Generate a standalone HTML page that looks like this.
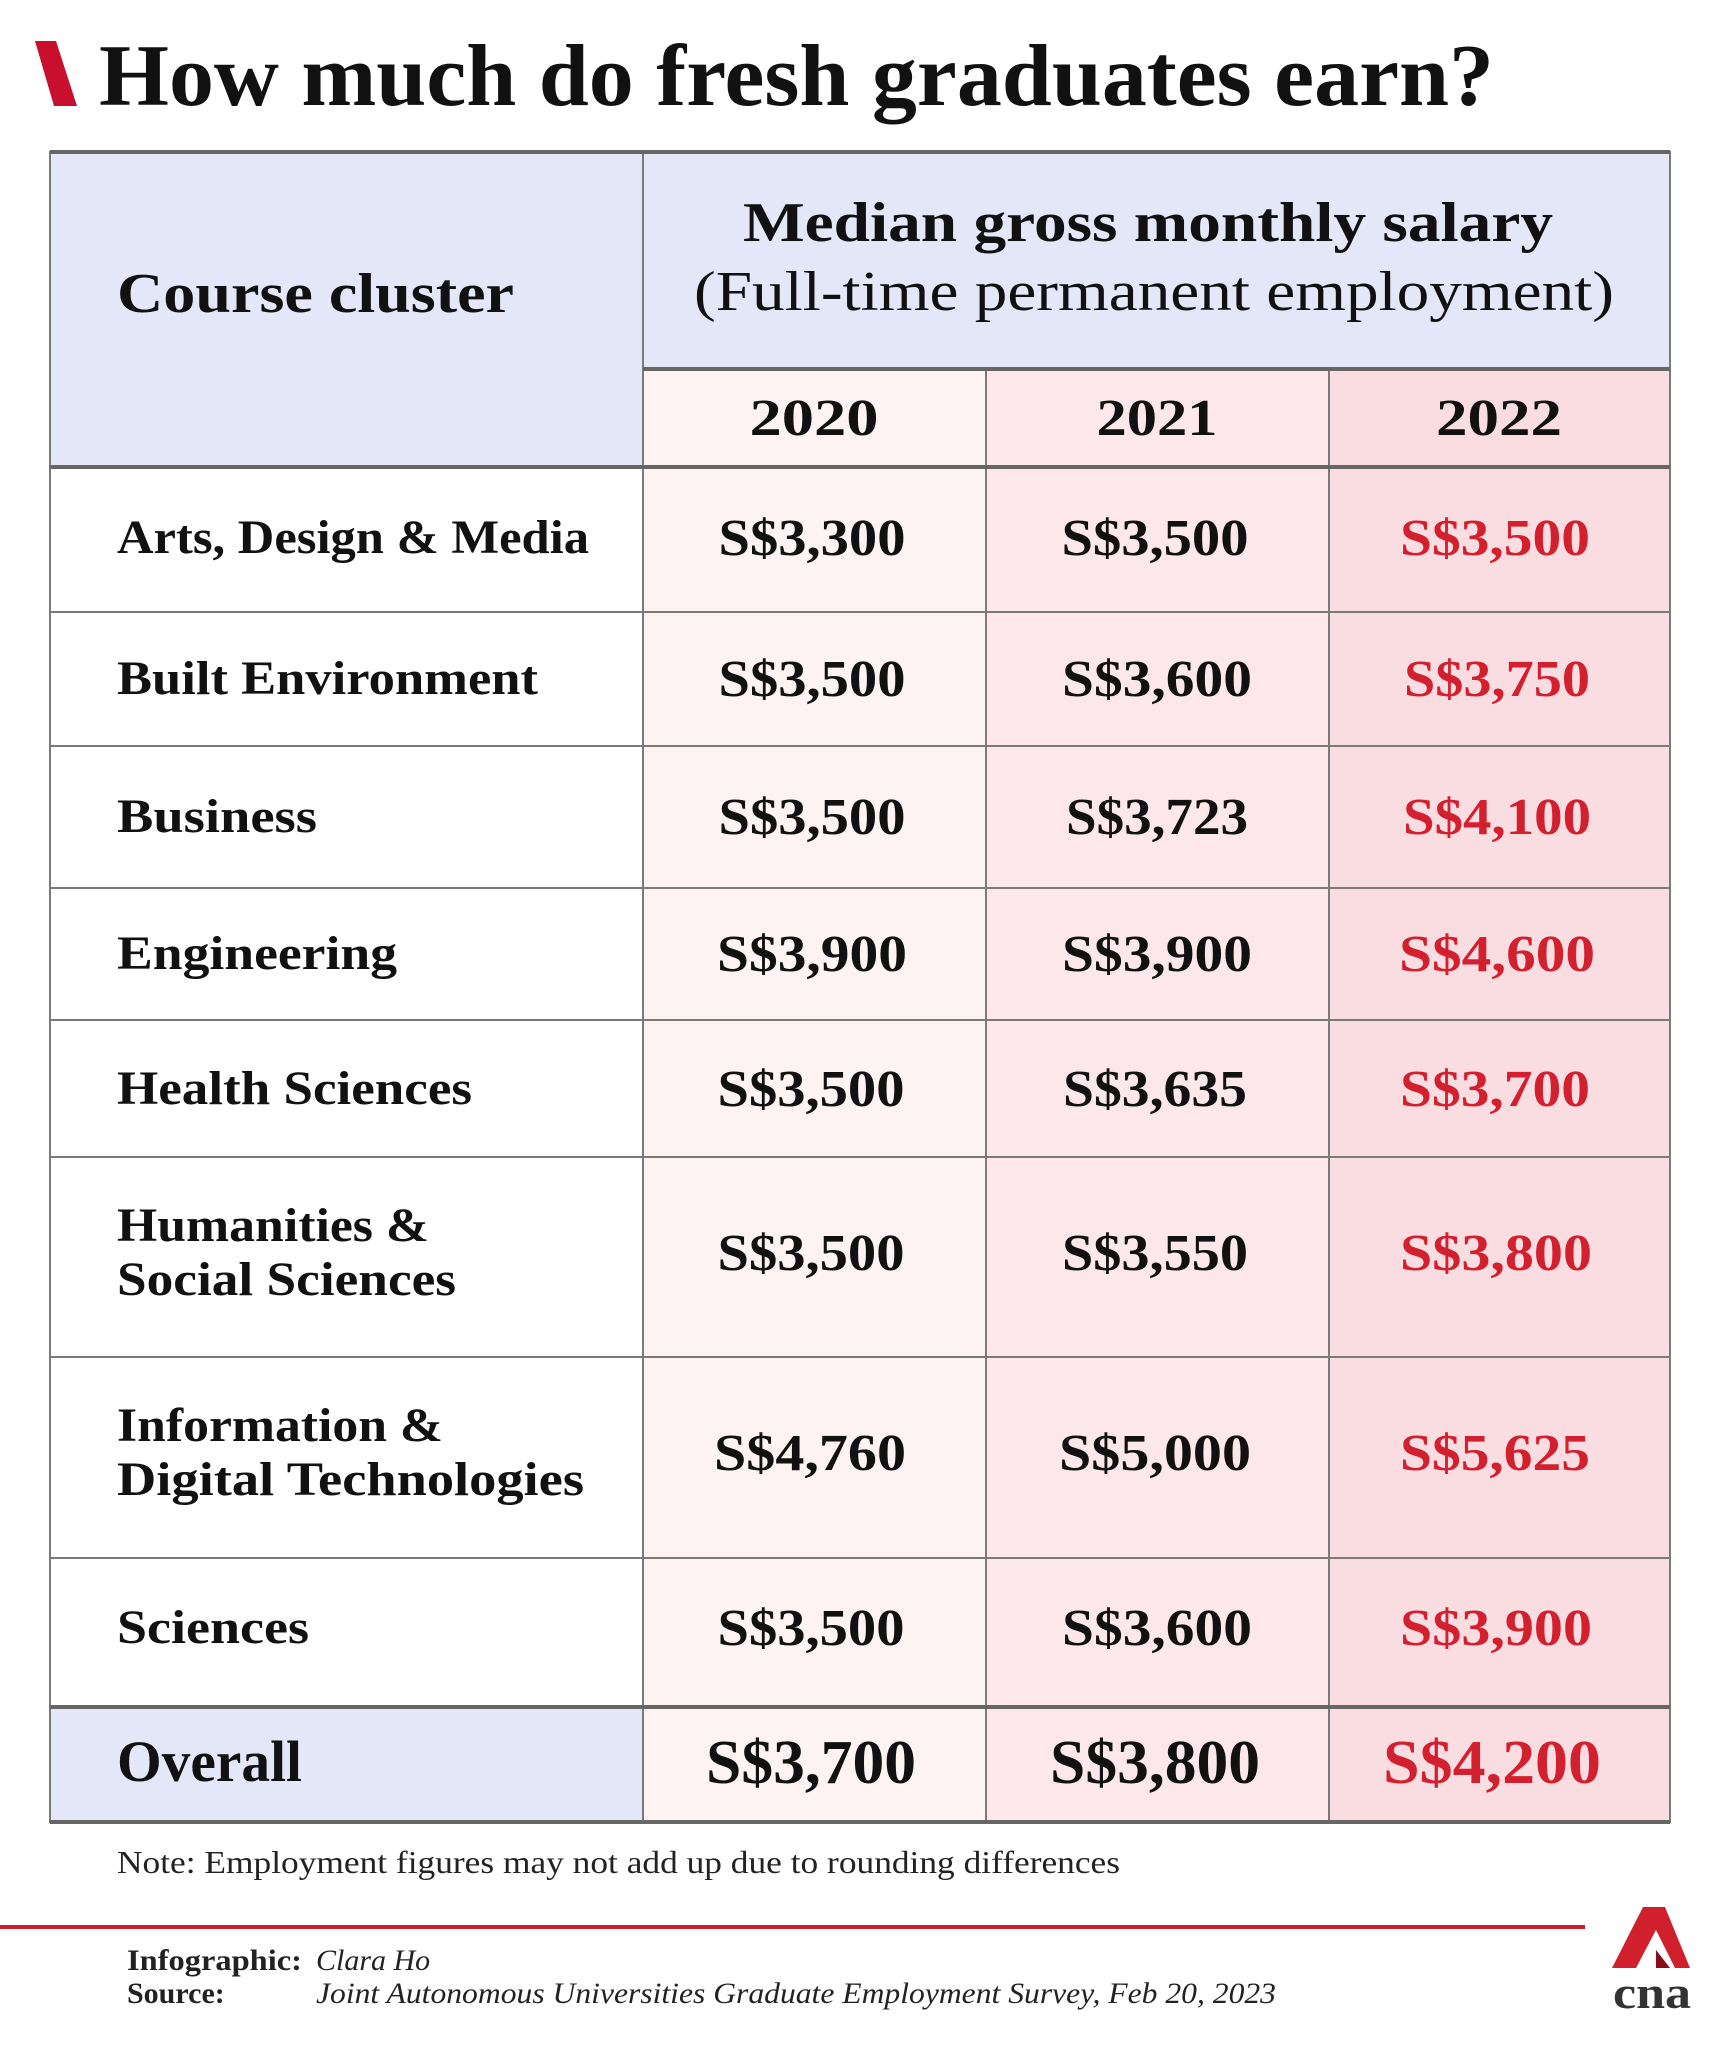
<!DOCTYPE html>
<html><head><meta charset="utf-8"><style>
html,body{margin:0;padding:0;background:#fff;width:1720px;height:2048px;overflow:hidden}
svg{display:block}
text{font-family:"Liberation Serif",serif}
.b{font-weight:bold}
</style></head><body>
<svg width="1720" height="2048" viewBox="0 0 1720 2048" xmlns="http://www.w3.org/2000/svg">
<polygon points="35,41 56,41 77,106 54,106" fill="#c8102e"/>
<text x="99" y="105" class="b" font-size="88" textLength="1395" lengthAdjust="spacingAndGlyphs" fill="#111">How much do fresh graduates earn?</text>

<rect x="50" y="152" width="593" height="315" fill="#e4e7f8"/>
<rect x="643" y="152" width="1027" height="217" fill="#e4e7f8"/>
<rect x="643" y="369" width="343" height="1453" fill="#fdf3f3"/>
<rect x="986" y="369" width="343" height="1453" fill="#fce8ea"/>
<rect x="1329" y="369" width="341" height="1453" fill="#fadde1"/>
<rect x="50" y="1707" width="593" height="115" fill="#e4e7f8"/>

<g stroke="#7a7a7a" stroke-width="2" fill="none">
<rect x="50" y="152" width="1620" height="1670"/>
<line x1="643" y1="152" x2="643" y2="1822"/>
<line x1="986" y1="369" x2="986" y2="1822"/>
<line x1="1329" y1="369" x2="1329" y2="1822"/>
<line x1="50" y1="612" x2="1670" y2="612"/>
<line x1="50" y1="746" x2="1670" y2="746"/>
<line x1="50" y1="888" x2="1670" y2="888"/>
<line x1="50" y1="1020" x2="1670" y2="1020"/>
<line x1="50" y1="1157" x2="1670" y2="1157"/>
<line x1="50" y1="1357" x2="1670" y2="1357"/>
<line x1="50" y1="1558" x2="1670" y2="1558"/>
</g>
<g stroke="#666" stroke-width="4">
<line x1="50" y1="152" x2="1670" y2="152"/>
<line x1="643" y1="369" x2="1670" y2="369"/>
<line x1="50" y1="467" x2="1670" y2="467"/>
<line x1="50" y1="1707" x2="1670" y2="1707"/>
<line x1="50" y1="1822" x2="1670" y2="1822"/>
</g>

<text x="117" y="312" class="b" font-size="56" textLength="397" lengthAdjust="spacingAndGlyphs" fill="#111">Course cluster</text>
<text x="743" y="241" class="b" font-size="56" textLength="810" lengthAdjust="spacingAndGlyphs" fill="#111">Median gross monthly salary</text>
<text x="694" y="310" font-size="56" textLength="920" lengthAdjust="spacingAndGlyphs" fill="#111">(Full-time permanent employment)</text>
<g class="b" font-size="52" fill="#111" text-anchor="middle">
<text x="814" y="435" textLength="129" lengthAdjust="spacingAndGlyphs">2020</text><text x="1157" y="435" textLength="121" lengthAdjust="spacingAndGlyphs">2021</text><text x="1499" y="435" textLength="126" lengthAdjust="spacingAndGlyphs">2022</text>
</g>

<g class="b" font-size="48" fill="#111">
<text x="117" y="553" textLength="472" lengthAdjust="spacingAndGlyphs">Arts, Design &amp; Media</text>
<text x="117" y="694" textLength="421" lengthAdjust="spacingAndGlyphs">Built Environment</text>
<text x="117" y="832" textLength="200" lengthAdjust="spacingAndGlyphs">Business</text>
<text x="117" y="969" textLength="280" lengthAdjust="spacingAndGlyphs">Engineering</text>
<text x="117" y="1104" textLength="355" lengthAdjust="spacingAndGlyphs">Health Sciences</text>
<text x="117" y="1241" textLength="312" lengthAdjust="spacingAndGlyphs">Humanities &amp;</text>
<text x="117" y="1295" textLength="339" lengthAdjust="spacingAndGlyphs">Social Sciences</text>
<text x="117" y="1441" textLength="326" lengthAdjust="spacingAndGlyphs">Information &amp;</text>
<text x="117" y="1495" textLength="467" lengthAdjust="spacingAndGlyphs">Digital Technologies</text>
<text x="117" y="1643" textLength="192" lengthAdjust="spacingAndGlyphs">Sciences</text>
<text x="117" y="1781" font-size="58" textLength="185" lengthAdjust="spacingAndGlyphs">Overall</text>
</g>

<g class="b" font-size="52" text-anchor="middle">
<g fill="#111">
<text x="812" y="555" textLength="187" lengthAdjust="spacingAndGlyphs">S$3,300</text><text x="1155" y="555" textLength="187" lengthAdjust="spacingAndGlyphs">S$3,500</text>
<text x="812" y="696" textLength="187" lengthAdjust="spacingAndGlyphs">S$3,500</text><text x="1157" y="696" textLength="190" lengthAdjust="spacingAndGlyphs">S$3,600</text>
<text x="812" y="834" textLength="187" lengthAdjust="spacingAndGlyphs">S$3,500</text><text x="1157" y="834" textLength="182" lengthAdjust="spacingAndGlyphs">S$3,723</text>
<text x="812" y="971" textLength="190" lengthAdjust="spacingAndGlyphs">S$3,900</text><text x="1157" y="971" textLength="190" lengthAdjust="spacingAndGlyphs">S$3,900</text>
<text x="811" y="1106" textLength="187" lengthAdjust="spacingAndGlyphs">S$3,500</text><text x="1155" y="1106" textLength="184" lengthAdjust="spacingAndGlyphs">S$3,635</text>
<text x="811" y="1270" textLength="187" lengthAdjust="spacingAndGlyphs">S$3,500</text><text x="1155" y="1270" textLength="186" lengthAdjust="spacingAndGlyphs">S$3,550</text>
<text x="810" y="1470" textLength="192" lengthAdjust="spacingAndGlyphs">S$4,760</text><text x="1155" y="1470" textLength="192" lengthAdjust="spacingAndGlyphs">S$5,000</text>
<text x="811" y="1645" textLength="187" lengthAdjust="spacingAndGlyphs">S$3,500</text><text x="1157" y="1645" textLength="190" lengthAdjust="spacingAndGlyphs">S$3,600</text>
<text x="811" y="1783" font-size="62" textLength="210" lengthAdjust="spacingAndGlyphs">S$3,700</text><text x="1155" y="1783" font-size="62" textLength="210" lengthAdjust="spacingAndGlyphs">S$3,800</text>
</g>
<g fill="#d2202f">
<text x="1495" y="555" textLength="190" lengthAdjust="spacingAndGlyphs">S$3,500</text>
<text x="1497" y="696" textLength="186" lengthAdjust="spacingAndGlyphs">S$3,750</text>
<text x="1497" y="834" textLength="188" lengthAdjust="spacingAndGlyphs">S$4,100</text>
<text x="1497" y="971" textLength="196" lengthAdjust="spacingAndGlyphs">S$4,600</text>
<text x="1495" y="1106" textLength="190" lengthAdjust="spacingAndGlyphs">S$3,700</text>
<text x="1496" y="1270" textLength="192" lengthAdjust="spacingAndGlyphs">S$3,800</text>
<text x="1495" y="1470" textLength="190" lengthAdjust="spacingAndGlyphs">S$5,625</text>
<text x="1496" y="1645" textLength="192" lengthAdjust="spacingAndGlyphs">S$3,900</text>
<text x="1492" y="1783" font-size="62" textLength="218" lengthAdjust="spacingAndGlyphs">S$4,200</text>
</g>
</g>

<text x="117" y="1873" font-size="32" textLength="1003" lengthAdjust="spacingAndGlyphs" fill="#222">Note: Employment figures may not add up due to rounding differences</text>
<rect x="0" y="1925" width="1585" height="4" fill="#c8202e"/>
<text x="127" y="1970" class="b" font-size="30" fill="#222" textLength="175" lengthAdjust="spacingAndGlyphs">Infographic:</text>
<text x="127" y="2003" class="b" font-size="30" fill="#222">Source:</text>
<text x="316" y="1970" font-size="30" font-style="italic" fill="#222">Clara Ho</text>
<text x="316" y="2003" font-size="30" font-style="italic" fill="#222" textLength="960" lengthAdjust="spacingAndGlyphs">Joint Autonomous Universities Graduate Employment Survey, Feb 20, 2023</text>

<polygon points="1643,1907 1665,1907 1690,1968 1675,1968 1656,1930 1636,1968 1612,1968" fill="#d0202e"/>
<polygon points="1656,1950 1670,1968 1656,1968" fill="#8a0c18"/>
<text x="1652" y="2008" text-anchor="middle" class="b" font-size="46" fill="#333" font-family="Liberation Sans" textLength="78" lengthAdjust="spacingAndGlyphs">cna</text>
</svg>
</body></html>
